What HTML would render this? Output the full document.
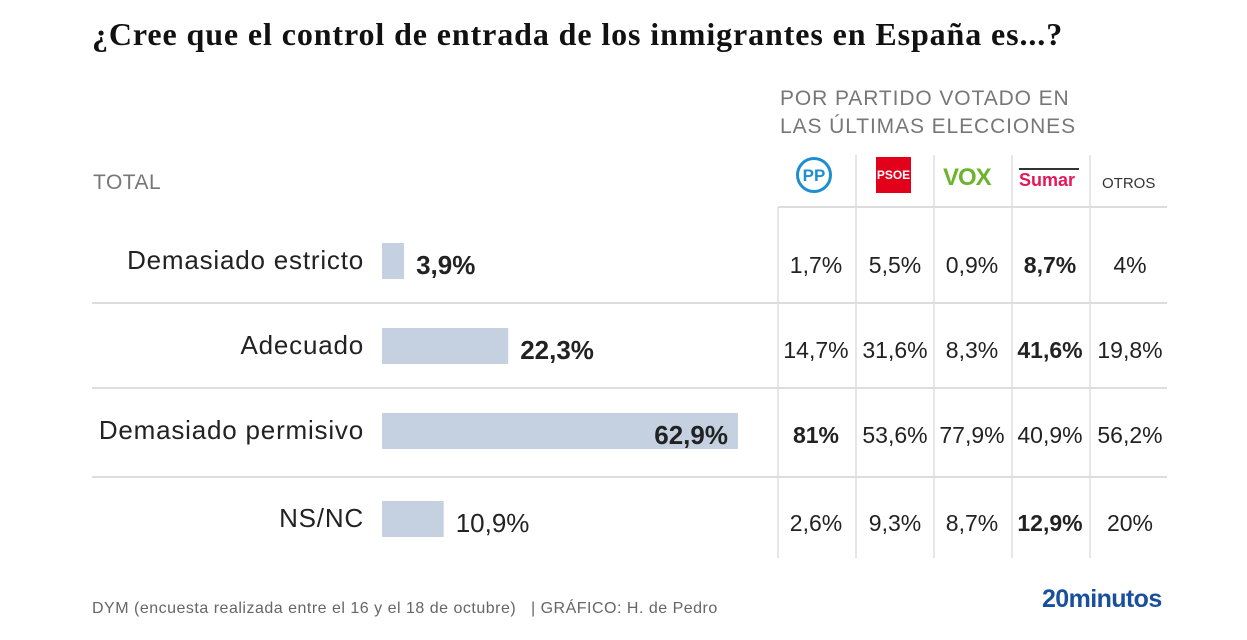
<!DOCTYPE html>
<html><head><meta charset="utf-8"><style>
body{margin:0;width:1247px;height:640px;background:#fff;overflow:hidden;font-family:"Liberation Sans",sans-serif;position:relative}
.a{position:absolute;white-space:nowrap}
</style></head><body>
<div class="a" style="left:92px;top:16px;font-family:'Liberation Serif',serif;font-weight:bold;font-size:32px;letter-spacing:0.9px;color:#111">¿Cree que el control de entrada de los inmigrantes en España es...?</div>
<div class="a" style="left:780px;top:85px;font-size:21px;line-height:28px;color:#777;letter-spacing:0.9px">POR PARTIDO VOTADO EN<br>LAS ÚLTIMAS ELECCIONES</div>
<div class="a" style="left:93px;top:171px;font-size:21px;color:#777;letter-spacing:0.5px">TOTAL</div>
<div class="a" style="left:796px;top:157px;width:36px;height:36px;border:3px solid #1d8fd0;border-radius:50%;box-sizing:border-box;color:#1d8fd0;font-weight:bold;font-size:17px;text-align:center;line-height:31px">PP</div>
<div class="a" style="left:876px;top:157px;width:35px;height:36px;background:#e2001a;color:#fff;font-weight:bold;font-size:12px;text-align:center;line-height:36px">PSOE</div>
<div class="a" style="left:943px;top:164px;color:#6cb42c;font-weight:bold;font-size:24px;letter-spacing:-1px">VOX</div>
<div class="a" style="left:1019px;top:168px;width:60px;border-top:2px solid #333;color:#e5185a;font-weight:bold;font-size:18px;padding-top:0">Sumar</div>
<div class="a" style="left:1102px;top:175px;color:#333;font-size:15px">OTROS</div>
<svg id="c" width="1247" height="640" style="position:absolute;left:0;top:0"></svg>
<div class="a" style="left:92px;top:600px;font-size:16px;letter-spacing:0.5px;color:#666">DYM (encuesta realizada entre el 16 y el 18 de octubre)&nbsp;&nbsp;&nbsp;| GRÁFICO: H. de Pedro</div>
<div class="a" style="left:1042px;top:585px;font-size:25px;font-weight:bold;color:#1a4f9c;letter-spacing:-0.6px">20minutos</div>
<script>
const categories=["Demasiado estricto","Adecuado","Demasiado permisivo","NS/NC"];
const totals=[3.9,22.3,62.9,10.9];
const totalBold=[true,true,true,false];
const pp=[1.7,14.7,81,2.6];
const psoe=[5.5,31.6,53.6,9.3];
const vox=[0.9,8.3,77.9,8.7];
const sumar=[8.7,41.6,40.9,12.9];
const otros=[4,19.8,56.2,20];
const boldCells=[[3],[3],[0],[3]];
const NS="http://www.w3.org/2000/svg";
const svg=document.getElementById('c');
const rowY=[261,346,431,519];
const x0=382, sx=356/62.9;
const xs=v=>x0+v*sx;
const fmt=v=>String(v).replace('.',',')+'%';
function el(t,a,p){const e=document.createElementNS(NS,t);for(const k in a)e.setAttribute(k,a[k]);(p||svg).appendChild(e);return e;}
[303,388,477].forEach(y=>{const l=el('line',{x1:92,x2:1167,y1:y,y2:y,stroke:'#ddd','stroke-width':2});

});
const hl=el('line',{x1:778,x2:1167,y1:207,y2:207,stroke:'#ddd','stroke-width':2});


[778,856,934,1012,1090].forEach((x,i)=>{const l=el('line',{x1:x,x2:x,y1:i==0?207:155,y2:558,stroke:'#ddd','stroke-width':1.5});

});
const cols=[pp,psoe,vox,sumar,otros];
const colX=[816,895,972,1050,1130];
categories.forEach((c,i)=>{
 const y=rowY[i];
 const t=el('text',{x:364,y:y+8,'text-anchor':'end','font-size':26,'letter-spacing':0.8,fill:'#222'});t.textContent=c;
 
 
 const w=xs(totals[i])-x0;
 const b=el('rect',{x:x0,y:y-18,width:w,height:36,fill:'#c5d1e1'});
 
 
 const inside=w>250;
 const v=el('text',{x:inside?x0+w-10:x0+w+12,y:y+13,'text-anchor':inside?'end':'start','font-size':26,'font-weight':totalBold[i]?'bold':'normal',fill:'#222'});
 v.textContent=fmt(totals[i]);
 
 
 cols.forEach((arr,j)=>{
  const tx=el('text',{x:colX[j],y:y+12,'text-anchor':'middle','font-size':23,'font-weight':boldCells[i].includes(j)?'bold':'normal',fill:'#222'});
  tx.textContent=fmt(arr[i]);
  
  
 });
});
</script>
</body></html>
